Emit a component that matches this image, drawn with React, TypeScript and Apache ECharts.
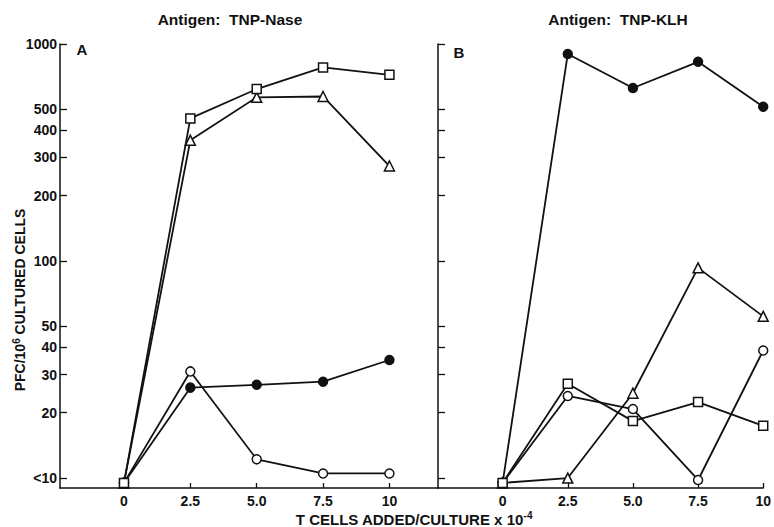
import React, { useEffect, useRef } from 'react';
import * as echarts from 'echarts';

// x positions: T cells added / culture (x 10^-4)
const xValues = [0, 2.5, 5, 7.5, 10];
const xTickValues = [0, 2.5, 5, 7.5, 10];
const xTickLabels = ['0', '2.5', '5.0', '7.5', '10'];

// y ticks (log scale), "<10" sits at 10
const yTickValues = [10, 20, 30, 40, 50, 100, 200, 300, 400, 500, 1000];
const yTickLabels = ['<10', '20', '30', '40', '50', '100', '200', '300', '400', '500', '1000'];

// Panel A: Antigen TNP-Nase
const naseSquare = [9.5, 454, 620, 780, 721];
const naseTriangle = [9.5, 360, 568, 573, 274];
const naseFilled = [9.5, 26.1, 26.9, 27.8, 35];
const naseOpen = [9.5, 31, 12.2, 10.5, 10.5];

// Panel B: Antigen TNP-KLH
const klhSquare = [9.5, 27.2, 18.3, 22.4, 17.4];
const klhTriangle = [9.5, 10, 24.6, 93, 55.6];
const klhFilled = [9.5, 900, 627, 828, 514];
const klhOpen = [9.5, 23.9, 20.8, 9.8, 38.7];

const FONT = 'Liberation Sans, Arial, Helvetica, sans-serif';
const INK = '#111';

function mkSeries(values: number[], symbol: string, filled: boolean, idx: number, size: number) {
  return {
    type: 'line',
    xAxisIndex: idx,
    yAxisIndex: idx,
    data: xValues.map((x, i) => [x, values[i]]),
    symbol,
    symbolSize: size,
    showSymbol: true,
    clip: false,
    lineStyle: { color: INK, width: 1.8 },
    itemStyle: { color: filled ? INK : '#fff', borderColor: INK, borderWidth: 1.5 },
    emphasis: { disabled: true },
  };
}

function yAxis(idx: number, showLabels: boolean) {
  return {
    gridIndex: idx,
    type: 'log',
    logBase: 10,
    min: 9,
    max: 1000,
    axisLine: { show: true, onZero: false, lineStyle: { color: INK, width: 1.5 } },
    axisTick: { show: true, inside: true, length: 7, customValues: yTickValues, lineStyle: { color: INK, width: 1.3 } },
    axisLabel: {
      show: showLabels,
      customValues: yTickValues,
      margin: 3,
      fontSize: 14,
      fontWeight: 'bold',
      fontFamily: FONT,
      color: INK,
      formatter: (v: number) => {
        const i = yTickValues.findIndex((t) => Math.abs(t - v) < 1e-6 * t);
        return i >= 0 ? yTickLabels[i] : '';
      },
    },
    splitLine: { show: false },
  };
}

function xAxis(idx: number, min: number, max: number) {
  return {
    gridIndex: idx,
    type: 'value',
    min,
    max,
    axisLine: { show: true, onZero: false, lineStyle: { color: INK, width: 1.5 } },
    axisTick: { show: true, inside: true, length: 5, customValues: xTickValues, lineStyle: { color: INK, width: 1.3 } },
    axisLabel: {
      show: true,
      customValues: xTickValues,
      margin: 6,
      fontSize: 14,
      fontWeight: 'bold',
      fontFamily: FONT,
      color: INK,
      formatter: (v: number) => {
        const i = xTickValues.findIndex((t) => Math.abs(t - v) < 1e-6);
        return i >= 0 ? xTickLabels[i] : '';
      },
    },
    splitLine: { show: false },
  };
}

export default function App() {
  const ref = useRef<HTMLDivElement>(null);
  useEffect(() => {
    const chart = echarts.init(ref.current as HTMLDivElement, null, { renderer: 'svg' });
    const textStyle = { fontFamily: FONT, fontWeight: 'bold', fill: INK };
    const richN = { fontSize: 15, fontWeight: 'bold', fontFamily: FONT, fill: INK, lineHeight: 17 };
    const richS = { fontSize: 10, fontWeight: 'bold', fontFamily: FONT, fill: INK, lineHeight: 17, padding: [0, 0, 7, 0] };
    const option: any = {
      animation: false,
      backgroundColor: '#fff',
      grid: [
        { left: 60, top: 44, width: 378, height: 444 },
        { left: 438, top: 44, width: 327, height: 444 },
      ],
      xAxis: [xAxis(0, -2.41, 11.83), xAxis(1, -2.48, 10)],
      yAxis: [yAxis(0, true), yAxis(1, false)],
      series: [
        mkSeries(naseFilled, 'circle', true, 0, 9),
        mkSeries(naseOpen, 'circle', false, 0, 9),
        mkSeries(naseTriangle, 'triangle', false, 0, 10),
        mkSeries(naseSquare, 'rect', false, 0, 9),
        mkSeries(klhFilled, 'circle', true, 1, 9),
        mkSeries(klhOpen, 'circle', false, 1, 9),
        mkSeries(klhTriangle, 'triangle', false, 1, 10),
        mkSeries(klhSquare, 'rect', false, 1, 9),
      ],
      graphic: [
        { type: 'text', x: 230, y: 19, style: { ...textStyle, text: 'Antigen:  TNP-Nase', fontSize: 15.5, align: 'center', verticalAlign: 'middle' } },
        { type: 'text', x: 618, y: 19, style: { ...textStyle, text: 'Antigen:  TNP-KLH', fontSize: 15.5, align: 'center', verticalAlign: 'middle' } },
        { type: 'text', x: 82, y: 49, style: { ...textStyle, text: 'A', fontSize: 15, align: 'center', verticalAlign: 'middle' } },
        { type: 'text', x: 459, y: 52, style: { ...textStyle, text: 'B', fontSize: 15, align: 'center', verticalAlign: 'middle' } },
        {
          type: 'text', x: 20, y: 300, rotation: Math.PI / 2,
          style: {
            ...textStyle,
            text: '{n|PFC/10}{s|6}{n| CULTURED CELLS}',
            align: 'center', verticalAlign: 'middle',
            rich: { n: { ...richN, fontSize: 14 }, s: richS },
          },
        },
        {
          type: 'text', x: 414, y: 519,
          style: {
            ...textStyle,
            text: '{n|T CELLS ADDED/CULTURE x 10}{s|-4}',
            align: 'center', verticalAlign: 'middle',
            rich: { n: richN, s: richS },
          },
        },
      ],
    };
    chart.setOption(option);
    return () => chart.dispose();
  }, []);
  return (
    <div
      ref={ref}
      style={{ position: 'fixed', left: 0, top: 0, width: 774, height: 527, background: '#fff' }}
    />
  );
}
